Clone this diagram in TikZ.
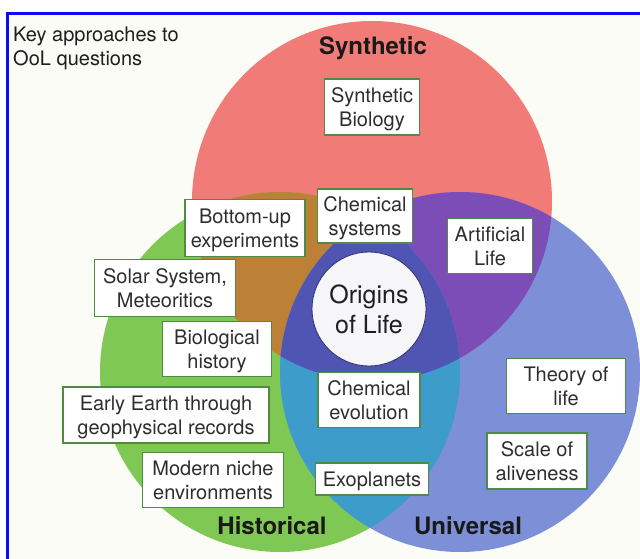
\documentclass[tikz,border=0pt]{standalone}
\usepackage{fontspec}
\setmainfont{TeX Gyre Heros}
\definecolor{cred}{HTML}{F17B77}
\definecolor{cgreen}{HTML}{7FC853}
\definecolor{cblue}{HTML}{7D8FD6}
\definecolor{crg}{HTML}{BC8036}
\definecolor{crb}{HTML}{7C4DB7}
\definecolor{cgb}{HTML}{3E9CCB}
\definecolor{crgb}{HTML}{5054B2}
\definecolor{boxgreen}{HTML}{4F8B47}
\definecolor{framblue}{HTML}{0C0CF2}
\definecolor{bgcol}{HTML}{FBFCF6}
\definecolor{txt}{HTML}{2E2E2E}
\definecolor{oolfill}{HTML}{F6F6F9}
\begin{document}
\begin{tikzpicture}[x=1pt,y=-1pt,
  box/.style={draw=boxgreen, line width=1.4pt, fill=white, inner sep=0pt, align=center,
    font=\fontsize{20}{23.5}\selectfont, text=txt, text depth=0pt},
  heading/.style={font=\fontsize{24}{28}\selectfont\bfseries, text=black!90, inner sep=0pt},
  redc/.style={insert path={(372,201) circle[radius=180pt]}},
  greenc/.style={insert path={(280,372) circle[radius=180pt]}},
  bluec/.style={insert path={(460,372) circle[radius=180pt]}}]
\useasboundingbox (0,0) rectangle (640,559);
\fill[white] (0,0) rectangle (640,559);
\fill[bgcol] (7,13.5) rectangle (640,559);
% circles
\fill[cred, redc];
\fill[cgreen, greenc];
\fill[cblue, bluec];
\begin{scope}\clip[redc]; \fill[crg, greenc]; \end{scope}
\begin{scope}\clip[redc]; \fill[crb, bluec]; \end{scope}
\begin{scope}\clip[greenc]; \fill[cgb, bluec]; \end{scope}
\begin{scope}\clip[redc]; \clip[greenc]; \fill[crgb, bluec]; \end{scope}
% frame
\draw[framblue, line width=3pt] (7,559) -- (7,13.5) -- (640,13.5);
% centre
\node[circle, fill=oolfill, draw=crgb!60!black, line width=0.8pt, minimum size=114pt,
  inner sep=0pt, align=center, font=\fontsize{25}{30}\selectfont, text=black!88] (ool) at (369,309) {Origins\\of Life};
% headings
\node[heading] (syn) at (373,48) {Synthetic};
\node[heading] (his) at (272,526) {Historical};
\node[heading] (uni) at (468,526) {Universal};
\node[anchor=north west, inner sep=0pt, align=left, font=\fontsize{20}{24}\selectfont, text=black!88] (key) at (13,27) {Key approaches to\\OoL questions};
% boxes
\node[box, minimum width=95pt, minimum height=56pt] (synbio) at (372,107) {Synthetic\\Biology};
\node[box, minimum width=95pt, minimum height=54pt] (chemsys) at (365,216) {Chemical\\systems};
\node[box, minimum width=85pt, minimum height=55pt] (artlife) at (490,246) {Artificial\\Life};
\node[box, minimum width=120pt, minimum height=57pt] (bottomup) at (245,228) {Bottom-up\\experiments};
\node[box, minimum width=141pt, minimum height=57pt] (solar) at (165,288) {Solar System,\\Meteoritics};
\node[box, minimum width=109pt, minimum height=55pt] (biohist) at (217,349) {Biological\\history};
\node[box, minimum width=206pt, minimum height=56pt] (early) at (166,415) {Early Earth through\\geophysical records};
\node[box, minimum width=141pt, minimum height=55pt] (modern) at (213,480) {Modern niche\\environments};
\node[box, minimum width=102pt, minimum height=55pt] (chemevo) at (369,400) {Chemical\\evolution};
\node[box, minimum width=113pt, minimum height=32pt] (exo) at (372,479) {Exoplanets};
\node[box, minimum width=119pt, minimum height=55pt] (theory) at (566,386) {Theory of\\life};
\node[box, minimum width=100pt, minimum height=56pt] (scale) at (537,461) {Scale of\\aliveness};
\end{tikzpicture}
\end{document}
